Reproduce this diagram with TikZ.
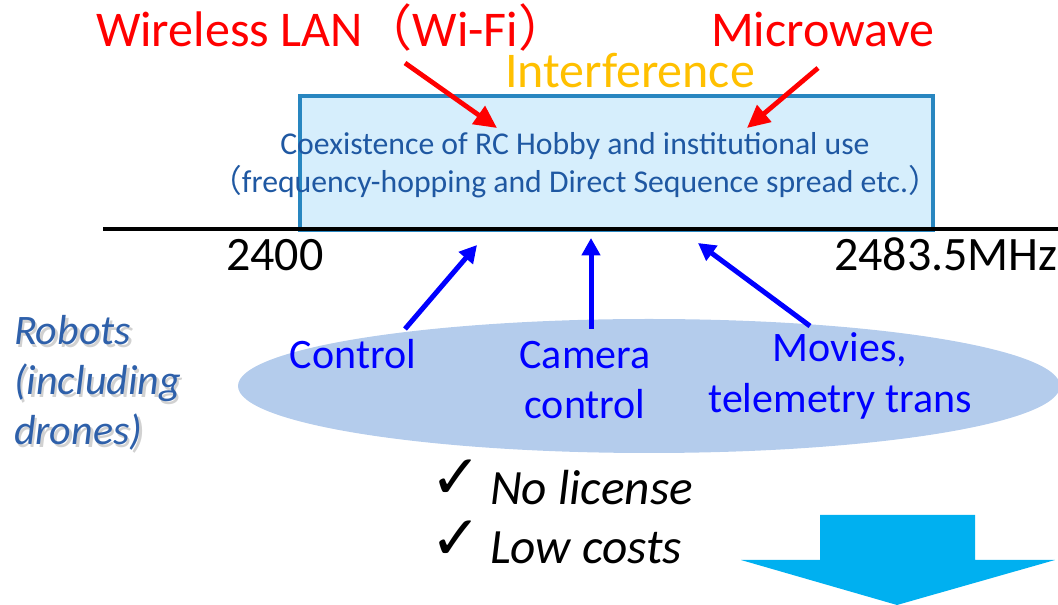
\documentclass[tikz,border=0pt]{standalone}
\usepackage{fontspec}
\setmainfont{Carlito}
\newfontfamily\cjk{Noto Sans CJK JP}
\newfontfamily\sym{DejaVu Sans}
\usetikzlibrary{arrows.meta,shapes.geometric}

\definecolor{alertred}{RGB}{255,0,0}
\definecolor{interf}{RGB}{255,192,0}
\definecolor{bandfill}{RGB}{214,238,252}
\definecolor{bandline}{RGB}{40,134,192}
\definecolor{bandtext}{RGB}{31,88,162}
\definecolor{robotblue}{RGB}{46,96,170}
\definecolor{ovalfill}{RGB}{180,204,236}
\definecolor{pureblue}{RGB}{0,0,255}
\definecolor{downcyan}{RGB}{0,176,240}

\tikzset{
  lbl/.style={inner sep=0pt, outer sep=0pt, anchor=base west},
  lblc/.style={inner sep=0pt, outer sep=0pt, anchor=base},
  big/.style={font=\fontsize{36}{43}\selectfont},
  head/.style={font=\fontsize{37.5}{45}\selectfont},
  mid/.style={font=\fontsize{31.5}{37.5}\selectfont},
  robotfont/.style={font=\fontsize{31.5}{37.5}\selectfont\itshape},
  benefit/.style={font=\fontsize{37}{44}\selectfont\itshape},
  tick/.style={font=\fontsize{46}{52}\selectfont\sym},
  small/.style={font=\fontsize{23.8}{28.5}\selectfont},
  redarrow/.style={draw=alertred, line width=3.6pt,
    -{Triangle[length=17pt,width=16pt]}},
  bluearrow/.style={draw=pureblue, line width=3.75pt,
    -{Triangle[length=13pt,width=13.5pt]}},
  bandbox/.style={draw=bandline, fill=bandfill, line width=3pt,
    minimum width=474.75pt, minimum height=100.5pt, inner sep=0pt},
  oval/.style={ellipse, fill=ovalfill, minimum width=616.5pt,
    minimum height=100.5pt, inner sep=0pt},
}

\begin{document}
\begin{tikzpicture}[x=0.75pt,y=-0.75pt]
\useasboundingbox (0,0) rectangle (1058,605);

% frequency band and axis
\node[bandbox] (band) at (616.5,163) {};
\coordinate (axisL) at (103,229);
\coordinate (axisR) at (1062,229);
\draw[line width=2.6pt, black] (axisL) -- (axisR);

\node[lblc, small, text=bandtext] (coex1) at (575,155)
  {Coexistence of RC Hobby and institutional use};
\node[lblc, small, text=bandtext] (coex2) at (575,193)
  {{\cjk（}frequency-hopping and Direct Sequence spread etc.{\cjk）}};

\node[lbl, big] (f0) at (226,271) {2400};
\node[lbl, big] (f1) at (834,271) {2483.5MHz};

% interference sources
\node[lbl, head, text=alertred] (wifi) at (96,47) {Wireless LAN{\cjk（}Wi-Fi{\cjk）}};
\node[lbl, head, text=alertred] (micro) at (711,47) {Microwave};
\node[lblc, head, text=interf] (interf) at (630,88) {Interference};

\coordinate (wifiTail) at (405,63);
\coordinate (wifiTip) at (497,128);
\coordinate (mwTail) at (818,68);
\coordinate (mwTip) at (747,128);
\draw[redarrow] (wifiTail) -- (wifiTip);
\draw[redarrow] (mwTail) -- (mwTip);

% robot uses
\node[oval] (uses) at (649,386) {};
\node[lblc, mid, text=pureblue] (ctrl) at (353,369) {Control};
\node[lblc, mid, text=pureblue] (cam1) at (585,369) {Camera};
\node[lblc, mid, text=pureblue] (cam2) at (585,419) {control};
\node[lblc, mid, text=pureblue] (mov1) at (840,362) {Movies,};
\node[lblc, mid, text=pureblue] (mov2) at (840,413) {telemetry trans};

\coordinate (ctrlTail) at (405,329);
\coordinate (ctrlTip) at (477,245);
\coordinate (camTail) at (591,329);
\coordinate (camTip) at (591,238);
\coordinate (movTail) at (810,326);
\coordinate (movTip) at (698,243);
\draw[bluearrow] (ctrlTail) -- (ctrlTip);
\draw[bluearrow] (camTail) -- (camTip);
\draw[bluearrow] (movTail) -- (movTip);

% side caption with soft shadow
\node[lbl, robotfont, text=black!18] at (16.5,348) {Robots};
\node[lbl, robotfont, text=black!18] at (16.5,398) {(including};
\node[lbl, robotfont, text=black!18] at (16.5,448) {drones)};
\node[lbl, robotfont, text=robotblue] (r1) at (14,345) {Robots};
\node[lbl, robotfont, text=robotblue] (r2) at (14,395) {(including};
\node[lbl, robotfont, text=robotblue] (r3) at (14,445) {drones)};

% benefits
\node[lbl, tick] (chk1) at (430,499) {✓};
\node[lbl, tick] (chk2) at (430,560) {✓};
\node[lbl, benefit] (lic) at (490,505) {No license};
\node[lbl, benefit] (cost) at (490,564) {Low costs};

% downward block arrow
\fill[downcyan] (820,515) -- (975,515) -- (975,560) -- (1055,560)
  -- (897,605) -- (741,560) -- (820,560) -- cycle;
\end{tikzpicture}
\end{document}
